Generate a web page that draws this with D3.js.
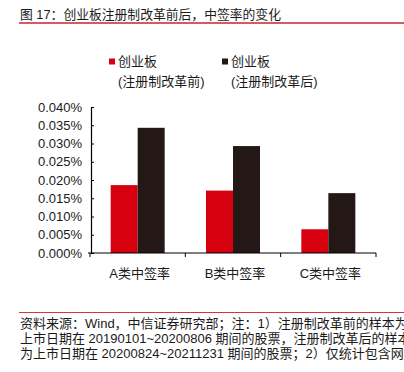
<!DOCTYPE html>
<html>
<head>
<meta charset="utf-8">
<script src="https://cdn.jsdelivr.net/npm/d3@7/dist/d3.min.js"></script>
<style>
  body { margin: 0; background: #fff; }
  svg text { font-family: "Liberation Sans", Arial, "Noto Sans CJK SC", sans-serif; fill: #1a1a1a; }
</style>
</head>
<body>
<svg id="chart" width="404" height="372"></svg>
<script>
// data
var categories = ["A类中签率", "B类中签率", "C类中签率"];
var seriesNames = ["创业板\n(注册制改革前)", "创业板\n(注册制改革后)"];
var beforeValues = [0.0186, 0.0171, 0.0065];
var afterValues = [0.0343, 0.0293, 0.0164];
var yTicks = [0, 0.005, 0.01, 0.015, 0.02, 0.025, 0.03, 0.035, 0.04];
var noteLines = [
  "资料来源：Wind，中信证券研究部；注：1）注册制改革前的样本为",
  "上市日期在 20190101~20200806 期间的股票，注册制改革后的样本",
  "为上市日期在 20200824~20211231 期间的股票；2）仅统计包含网下"
];

var colors = ["#d7000f", "#231815"];

var svg = d3.select("#chart");

// title + rule
svg.append("text")
    .attr("x", 20).attr("y", 19)
    .style("font-size", "12.8px")
    .text("图 17：创业板注册制改革前后，中签率的变化");
svg.append("line")
    .attr("x1", 19).attr("x2", 404).attr("y1", 23).attr("y2", 23)
    .attr("stroke", "#d65a5e").attr("stroke-width", 2);

var x = d3.scaleBand().domain(categories).range([90, 376]);
var y = d3.scaleLinear().domain([0, 0.04]).range([253, 107]);

var groupW = 54;
var x1 = d3.scaleBand().domain([0, 1]).range([0, groupW]);

var rows = categories.map(function (c, i) {
  return { cat: c, vals: [beforeValues[i], afterValues[i]] };
});

var groups = svg.append("g").selectAll("g")
    .data(rows)
    .enter().append("g")
    .attr("transform", function (d) {
      return "translate(" + (x(d.cat) + (x.bandwidth() - groupW) / 2) + ",0)";
    });

groups.selectAll("rect")
    .data(function (d) { return d.vals; })
    .enter().append("rect")
    .attr("x", function (d, i) { return x1(i); })
    .attr("width", x1.bandwidth())
    .attr("y", function (d) { return y(d); })
    .attr("height", function (d) { return y(0) - y(d); })
    .attr("fill", function (d, i) { return colors[i]; });

// y axis, ticks pointing inward
var yAxis = svg.append("g")
    .attr("transform", "translate(91,0)")
    .call(d3.axisRight(y).tickValues(yTicks).tickSize(3)
      .tickFormat(function (d) { return d3.format(".3f")(d) + "%"; }));
yAxis.select(".domain").attr("stroke", "#000").attr("stroke-width", 1.2);
yAxis.selectAll(".tick line").attr("stroke", "#000");
yAxis.selectAll(".tick text")
    .attr("x", -9).attr("text-anchor", "end")
    .style("font-size", "13px");

// x axis with ticks at band boundaries
var xg = svg.append("g").attr("transform", "translate(0,253)");
xg.append("line")
    .attr("x1", 88).attr("x2", x.range()[1])
    .attr("stroke", "#000").attr("stroke-width", 1.2);
xg.selectAll("line.bt")
    .data(categories.map(function (c) { return x(c); }).concat([x.range()[1]]))
    .enter().append("line")
    .attr("class", "bt")
    .attr("x1", function (d) { return d; }).attr("x2", function (d) { return d; })
    .attr("y1", 0).attr("y2", 4)
    .attr("stroke", "#000");
xg.selectAll("text")
    .data(categories)
    .enter().append("text")
    .attr("x", function (d) { return x(d) + x.bandwidth() / 2 + 2; })
    .attr("y", 25)
    .attr("text-anchor", "middle")
    .style("font-size", "13px")
    .text(function (d) { return d; });

// legend
var legend = svg.append("g").selectAll("g")
    .data(seriesNames)
    .enter().append("g")
    .attr("transform", function (d, i) { return "translate(" + (109 + i * 113) + ",0)"; });
legend.append("rect")
    .attr("x", 0).attr("y", 58.5)
    .attr("width", 6).attr("height", 6)
    .attr("fill", function (d, i) { return colors[i]; });
legend.append("text")
    .style("font-size", "13px")
    .selectAll("tspan")
    .data(function (d) { return d.split("\n"); })
    .enter().append("tspan")
    .attr("x", 9)
    .attr("y", function (d, i) { return 66 + i * 20; })
    .text(function (d) { return d; });

// source note (runs off the right edge, as in the original)
svg.append("line")
    .attr("x1", 19).attr("x2", 404).attr("y1", 312.5).attr("y2", 312.5)
    .attr("stroke", "#d0393b").attr("stroke-width", 1);
svg.append("g").selectAll("text")
    .data(noteLines)
    .enter().append("text")
    .attr("x", 20)
    .attr("y", function (d, i) { return 328 + i * 15; })
    .style("font-size", "13px")
    .text(function (d) { return d; });
</script>
</body>
</html>
